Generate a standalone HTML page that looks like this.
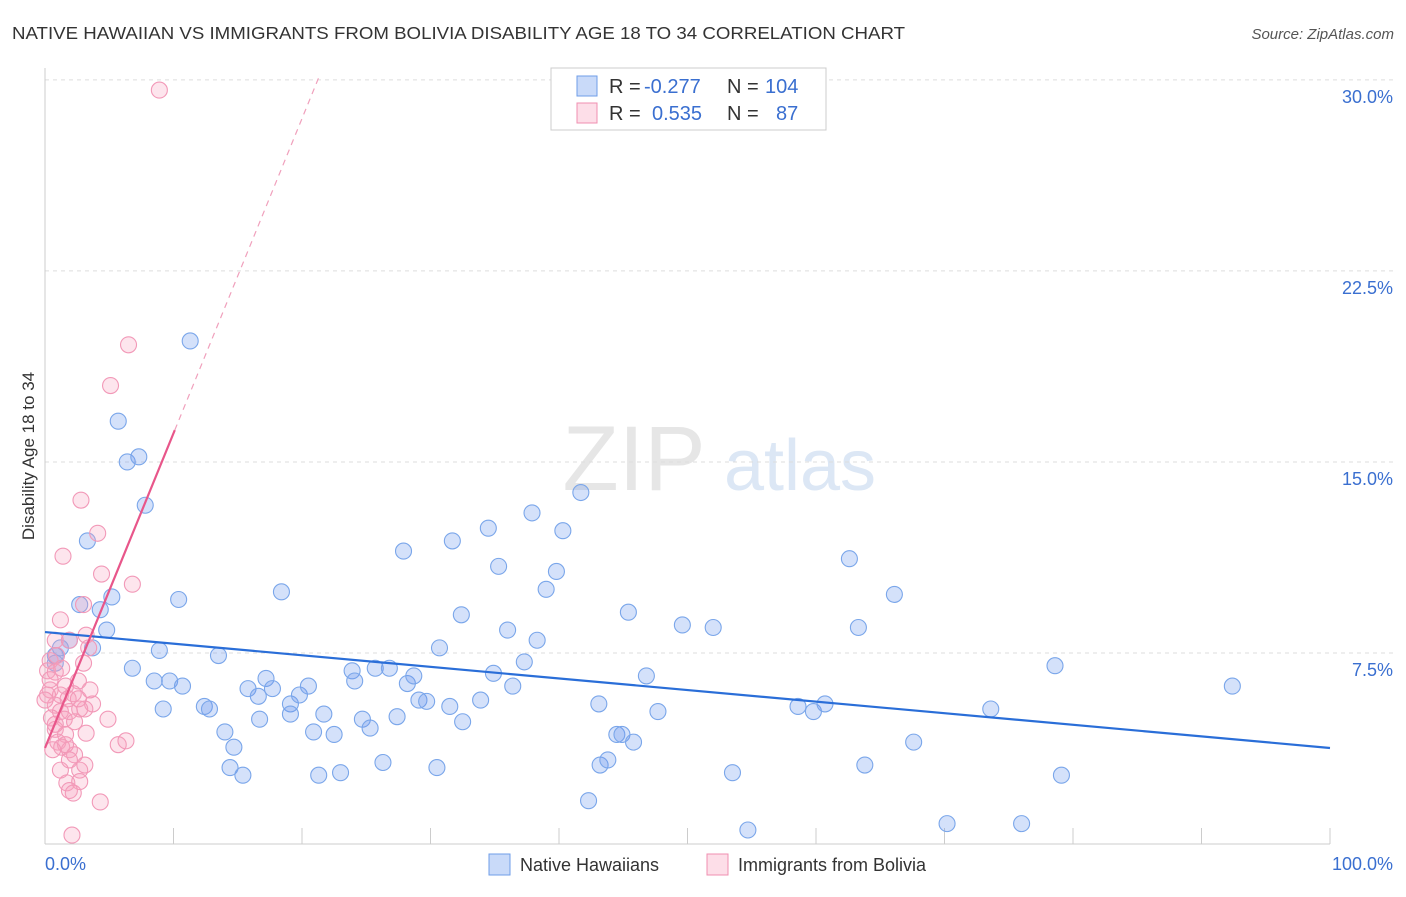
<!DOCTYPE html>
<html><head><meta charset="utf-8"><style>
body{margin:0;background:#fff;font-family:"Liberation Sans",sans-serif;}
svg text{font-family:"Liberation Sans",sans-serif;}
</style></head><body>
<svg id="chart" width="1406" height="892" viewBox="0 0 1406 892" xmlns="http://www.w3.org/2000/svg">
<text x="12" y="39" font-size="17.5" fill="#333" textLength="893" lengthAdjust="spacingAndGlyphs">NATIVE HAWAIIAN VS IMMIGRANTS FROM BOLIVIA DISABILITY AGE 18 TO 34 CORRELATION CHART</text>
<text x="1394" y="39" font-size="15" fill="#555" font-style="italic" text-anchor="end">Source: ZipAtlas.com</text>
<g><text x="634" y="490" font-size="92" fill="#e6e6e6" text-anchor="middle" font-family="Liberation Serif">ZIP</text><text x="800" y="490" font-size="72" fill="#dce7f5" text-anchor="middle">atlas</text></g>
<g id="grid"></g>
<g id="axes"></g>
<g id="marks"></g>
<text x="34" y="456" font-size="17" fill="#333" text-anchor="middle" transform="rotate(-90 34 456)">Disability Age 18 to 34</text>
<g>
<rect x="551" y="68" width="275" height="62" fill="#fff" stroke="#ccc"/>
<rect x="577" y="76" width="20" height="20" fill="rgba(100,149,237,0.35)" stroke="#6f9ee8"/>
<rect x="577" y="103" width="20" height="20" fill="rgba(248,160,190,0.35)" stroke="#f08fb0"/>
<g font-size="20" fill="#333">
<text x="609" y="93">R =</text><text x="644" y="93" fill="#3a6fd0">-0.277</text>
<text x="727" y="93">N =</text><text x="765" y="93" fill="#3a6fd0">104</text>
<text x="609" y="120">R =</text><text x="652" y="120" fill="#3a6fd0">0.535</text>
<text x="727" y="120">N =</text><text x="776" y="120" fill="#3a6fd0">87</text>
</g>
</g>
<g>
<rect x="489" y="854" width="21" height="21" fill="rgba(100,149,237,0.35)" stroke="#6f9ee8"/>
<text x="520" y="871" font-size="18" fill="#333">Native Hawaiians</text>
<rect x="707" y="854" width="21" height="21" fill="rgba(248,160,190,0.35)" stroke="#f08fb0"/>
<text x="738" y="871" font-size="18" fill="#333">Immigrants from Bolivia</text>
</g>
</svg>
<script>
const yTicks=[7.5,15,22.5,30];
const yTickLabels=["7.5%","15.0%","22.5%","30.0%"];
const xTickLabels=["0.0%","100.0%"];
const blueX=[11.3,5.7,6.4,7.3,7.8,3.3,5.2,4.3,2.7,4.8,3.7,1.9,0.8,1.2,0.8,6.8,8.9,8.5,9.7,10.7,9.2,10.4,13.5,12.4,12.8,14.0,14.7,14.4,15.4,15.8,16.6,17.2,17.7,16.7,18.4,19.1,19.1,19.8,20.5,20.9,21.7,22.5,21.3,23.0,23.9,24.1,24.7,25.3,25.7,26.8,27.4,26.3,27.9,28.2,28.7,29.1,29.7,30.7,30.5,31.5,32.5,31.7,32.4,33.9,34.5,34.9,35.3,36.4,36.0,37.3,37.9,38.3,39.0,39.8,40.3,41.7,43.1,43.2,43.8,42.3,44.5,44.9,45.4,45.8,46.8,47.7,49.6,52.0,53.5,54.7,58.6,59.8,60.7,62.6,63.3,63.8,66.1,67.6,70.2,73.6,76.0,78.6,79.1,92.4];
const blueY=[19.75,16.6,15.0,15.2,13.3,11.9,9.7,9.2,9.4,8.4,7.7,8.0,7.4,7.7,7.1,6.9,7.6,6.4,6.4,6.2,5.3,9.6,7.4,5.4,5.3,4.4,3.8,3.0,2.7,6.1,5.8,6.5,6.1,4.9,9.9,5.5,5.1,5.85,6.2,4.4,5.1,4.3,2.7,2.8,6.8,6.4,4.9,4.55,6.9,6.9,5.0,3.2,11.5,6.3,6.6,5.65,5.6,7.7,3.0,5.4,4.8,11.9,9.0,5.65,12.4,6.7,10.9,6.2,8.4,7.15,13.0,8.0,10.0,10.7,12.3,13.8,5.5,3.1,3.3,1.7,4.3,4.3,9.1,4.0,6.6,5.2,8.6,8.5,2.8,0.55,5.4,5.2,5.5,11.2,8.5,3.1,9.8,4.0,0.8,5.3,0.8,7.0,2.7,6.2];
const pinkX=[8.9,6.5,5.1,2.8,1.4,4.1,4.4,6.8,1.2,3.0,3.2,3.4,0.8,1.9,3.0,2.6,0.4,0.2,0.8,1.6,0.4,1.2,2.2,3.7,3.1,4.9,0.8,1.2,1.9,2.7,0.5,1.5,2.3,0.8,1.6,3.2,1.0,1.3,1.9,2.3,5.7,6.3,1.2,2.7,1.7,2.7,1.9,2.2,4.3,2.1,0.2,0.9,1.3,0.4,1.8,2.6,3.5,0.0,0.8,1.6,0.6,1.9,3.1];
const pinkY=[29.6,19.6,18.0,13.5,11.3,12.2,10.6,10.2,8.8,9.4,8.2,7.7,8.0,8.0,7.1,6.4,7.2,6.8,6.75,6.2,6.05,5.85,5.9,5.5,5.3,4.9,5.45,5.2,5.2,5.3,4.95,4.9,4.8,4.5,4.3,4.35,4.0,3.8,3.7,3.5,3.9,4.05,2.9,2.9,2.4,2.45,2.1,2.0,1.65,0.35,5.85,7.4,6.9,6.45,5.7,5.7,6.05,5.65,4.7,3.9,3.7,3.3,3.1];
const blueTrend=[8.32,3.77];
const pinkTrend=[3.77,16.25,10.1];
const NS='http://www.w3.org/2000/svg';
const xS=v=>45+v*12.85, yS=v=>844-v*25.47;
function mk(p,t,a){const e=document.createElementNS(NS,t);for(const k in a)e.setAttribute(k,a[k]);p.appendChild(e);return e;}
const grid=document.getElementById('grid'),axes=document.getElementById('axes'),marks=document.getElementById('marks');
yTicks.forEach((t,i)=>{
 const l=mk(grid,'line',{x1:45,x2:1393,y1:yS(t),y2:yS(t),stroke:'#ddd','stroke-dasharray':'4 4'});
 
 
 const tx=mk(axes,'text',{x:1393,y:yS(t)+23,'font-size':18,fill:'#3a6fd0','text-anchor':'end'});
 tx.textContent=yTickLabels[i];
 
 
});
mk(axes,'line',{x1:45,x2:45,y1:68,y2:844,stroke:'#ccc'});
mk(axes,'line',{x1:45,x2:1330,y1:844,y2:844,stroke:'#ccc'});
for(let i=0;i<=10;i++){const t=mk(axes,'line',{x1:xS(i*10),x2:xS(i*10),y1:828,y2:844,stroke:'#ccc'});
 
 }
[[0,'start',45],[1,'end',1393]].forEach(([i,a,x])=>{const t=mk(axes,'text',{x:x,y:870,'font-size':18,fill:'#3a6fd0','text-anchor':a});t.textContent=xTickLabels[i];
 
 });
blueX.forEach((x,i)=>{const c=mk(marks,'circle',{cx:xS(x),cy:yS(blueY[i]),r:8,fill:'rgba(100,149,237,0.28)',stroke:'#7aa6ea','stroke-width':1.1});
 
 });
pinkX.forEach((x,i)=>{const c=mk(marks,'circle',{cx:xS(x),cy:yS(pinkY[i]),r:8,fill:'rgba(248,160,190,0.28)',stroke:'#f299b8','stroke-width':1.1});
 
 });
const bl=mk(marks,'line',{x1:xS(0),y1:yS(blueTrend[0]),x2:xS(100),y2:yS(blueTrend[1]),stroke:'#2a6ed8','stroke-width':2.2});


const slope=(pinkTrend[1]-pinkTrend[0])/pinkTrend[2];
const xEnd=(30.2-pinkTrend[0])/slope;
const pd=mk(marks,'line',{x1:xS(pinkTrend[2]),y1:yS(pinkTrend[1]),x2:xS(xEnd),y2:yS(30.2),stroke:'#f0a0bc','stroke-width':1.2,'stroke-dasharray':'6 5'});


const pl=mk(marks,'line',{x1:xS(0),y1:yS(pinkTrend[0]),x2:xS(pinkTrend[2]),y2:yS(pinkTrend[1]),stroke:'#e8568a','stroke-width':2.2});


</script>
</body></html>
